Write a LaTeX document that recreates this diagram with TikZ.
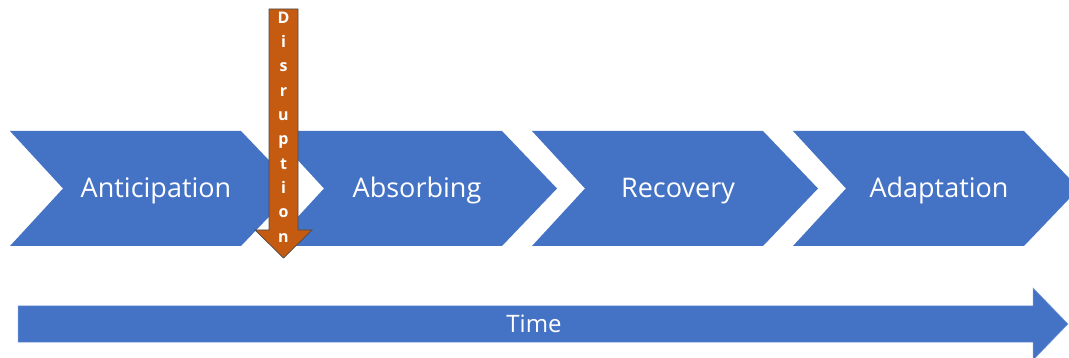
\documentclass[tikz,border=0pt]{standalone}
\usepackage{fontspec}
\setmainfont{Open Sans}
\definecolor{phaseblue}{HTML}{4472C4}
\definecolor{shockorange}{HTML}{C55A11}
\tikzset{
  phase/.style={fill=phaseblue},
  phaselabel/.style={text=white, anchor=base, font=\fontsize{27}{32}\selectfont},
  timelabel/.style={text=white, anchor=base, font=\fontsize{24}{28}\selectfont},
  shock/.style={fill=shockorange, draw=gray!60!black, line width=0.7pt},
  shocklabel/.style={text=white, align=center, font=\fontsize{16}{24.3}\selectfont\bfseries},
}
\begin{document}
\begin{tikzpicture}[x=1pt,y=-1pt]
  \useasboundingbox (0,0) rectangle (1069,358);
  % phases
  \foreach \x/\name/\txt in {10/ant/Anticipation, 271/abs/Absorbing, 532/rec/Recovery, 793/ada/Adaptation}{
    \fill[phase] (\x,131) -- (\x+231,131) -- (\x+286,188.5) -- (\x+231,246)
      -- (\x,246) -- (\x+53,188.5) -- cycle;
    \node[phaselabel] (\name) at (\x+146,198) {\txt};
  }
  % time axis
  \fill[phase, draw=phaseblue!75!white, line width=0.5pt] (18,306) -- (1033,306) -- (1033,288) -- (1068,324)
    -- (1033,360) -- (1033,342) -- (18,342) -- cycle;
  \node[timelabel] (time) at (534,332) {Time};
  % disruption
  \draw[shock] (269,9) -- (298,9) -- (298,230) -- (312,230) -- (283.5,258)
    -- (255,230) -- (269,230) -- cycle;
  \node[shocklabel] (disruption) at (283.5,127) {D\\i\\s\\r\\u\\p\\t\\i\\o\\n};
\end{tikzpicture}
\end{document}
